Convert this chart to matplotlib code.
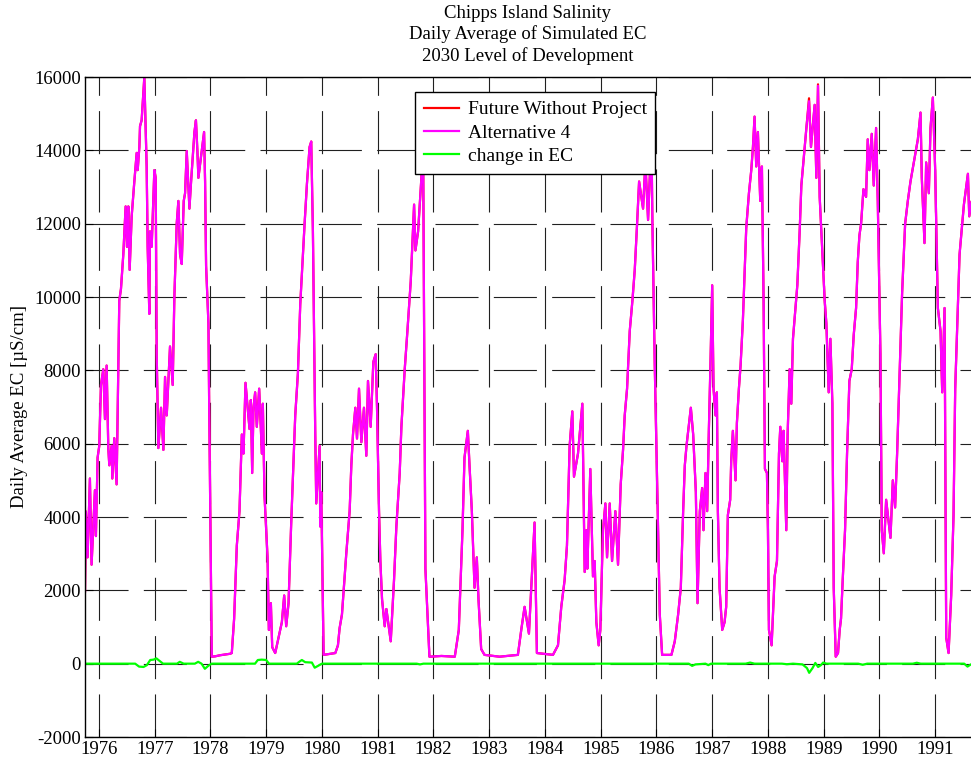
import matplotlib
matplotlib.use("Agg")
import matplotlib.pyplot as plt

plt.rcParams['font.family'] = ['Liberation Serif', 'DejaVu Serif']
plt.rcParams['lines.scale_dashes'] = False

# Alternative 4, daily average EC (decimal year, uS/cm)
t_alt4 = [
    1975.750, 1975.766, 1975.796, 1975.838, 1975.868, 1975.928, 1975.946, 1975.976,
    1976.006, 1976.036, 1976.078, 1976.108, 1976.138, 1976.168, 1976.186, 1976.228,
    1976.240, 1976.275, 1976.317, 1976.365, 1976.395, 1976.437, 1976.479, 1976.503,
    1976.527, 1976.551, 1976.587, 1976.635, 1976.677, 1976.695, 1976.725, 1976.737,
    1976.766, 1976.814, 1976.832, 1976.856, 1976.874, 1976.904, 1976.916, 1976.946,
    1976.994, 1977.018, 1977.036, 1977.066, 1977.114, 1977.156, 1977.186, 1977.216,
    1977.275, 1977.323, 1977.353, 1977.395, 1977.425, 1977.455, 1977.485, 1977.521,
    1977.545, 1977.575, 1977.623, 1977.653, 1977.713, 1977.740, 1977.766, 1977.784,
    1977.886, 1977.904, 1977.922, 1977.964, 1977.976, 1978.024, 1978.084, 1978.174,
    1978.353, 1978.383, 1978.425, 1978.473, 1978.521, 1978.563, 1978.593, 1978.629,
    1978.701, 1978.725, 1978.749, 1978.772, 1978.802, 1978.832, 1978.874, 1978.892,
    1978.922, 1978.940, 1978.970, 1979.024, 1979.048, 1979.084, 1979.108, 1979.162,
    1979.222, 1979.281, 1979.323, 1979.359, 1979.401, 1979.449, 1979.521, 1979.569,
    1979.611, 1979.641, 1979.689, 1979.731, 1979.778, 1979.808, 1979.838, 1979.880,
    1979.898, 1979.958, 1979.970, 1979.988, 1980.030, 1980.240, 1980.287, 1980.317,
    1980.359, 1980.437, 1980.497, 1980.527, 1980.557, 1980.599, 1980.629, 1980.665,
    1980.707, 1980.754, 1980.796, 1980.826, 1980.874, 1980.922, 1980.964, 1980.988,
    1981.024, 1981.048, 1981.078, 1981.126, 1981.156, 1981.234, 1981.293, 1981.335,
    1981.395, 1981.425, 1981.485, 1981.533, 1981.593, 1981.653, 1981.677, 1981.725,
    1981.784, 1981.814, 1981.856, 1981.928, 1982.144, 1982.383, 1982.455, 1982.521,
    1982.557, 1982.617, 1982.647, 1982.689, 1982.737, 1982.778, 1982.808, 1982.856,
    1982.916, 1983.186, 1983.515, 1983.575, 1983.635, 1983.713, 1983.754, 1983.814,
    1983.856, 1984.144, 1984.234, 1984.293, 1984.353, 1984.395, 1984.443, 1984.491,
    1984.521, 1984.593, 1984.671, 1984.713, 1984.743, 1984.760, 1984.814, 1984.832,
    1984.862, 1984.892, 1984.922, 1984.964, 1984.994, 1985.024, 1985.042, 1985.084,
    1985.114, 1985.162, 1985.204, 1985.263, 1985.311, 1985.359, 1985.401, 1985.431,
    1985.473, 1985.521, 1985.569, 1985.611, 1985.653, 1985.689, 1985.760, 1985.802,
    1985.850, 1985.910, 1985.928, 1985.970, 1986.018, 1986.060, 1986.102, 1986.269,
    1986.329, 1986.389, 1986.437, 1986.479, 1986.509, 1986.539, 1986.617, 1986.659,
    1986.707, 1986.737, 1986.778, 1986.820, 1986.844, 1986.880, 1986.910, 1986.940,
    1986.970, 1987.000, 1987.024, 1987.060, 1987.084, 1987.102, 1987.132, 1987.180,
    1987.222, 1987.251, 1987.281, 1987.323, 1987.341, 1987.371, 1987.419, 1987.443,
    1987.479, 1987.509, 1987.551, 1987.581, 1987.611, 1987.659, 1987.701, 1987.731,
    1987.760, 1987.790, 1987.820, 1987.862, 1987.892, 1987.922, 1987.946, 1987.982,
    1988.000, 1988.018, 1988.066, 1988.120, 1988.162, 1988.198, 1988.222, 1988.257,
    1988.281, 1988.329, 1988.353, 1988.389, 1988.419, 1988.449, 1988.527, 1988.569,
    1988.599, 1988.647, 1988.689, 1988.737, 1988.772, 1988.838, 1988.868, 1988.898,
    1988.928, 1989.018, 1989.048, 1989.090, 1989.120, 1989.156, 1989.180, 1989.216,
    1989.257, 1989.287, 1989.311, 1989.341, 1989.383, 1989.419, 1989.461, 1989.503,
    1989.539, 1989.581, 1989.611, 1989.641, 1989.671, 1989.713, 1989.760, 1989.790,
    1989.820, 1989.862, 1989.898, 1989.940, 1989.970, 1990.018, 1990.042, 1990.078,
    1990.120, 1990.198, 1990.240, 1990.281, 1990.317, 1990.359, 1990.407, 1990.461,
    1990.509, 1990.557, 1990.689, 1990.737, 1990.760, 1990.808, 1990.838, 1990.886,
    1990.916, 1990.958, 1991.000, 1991.048, 1991.096, 1991.126, 1991.168, 1991.198,
    1991.240, 1991.287, 1991.329, 1991.359, 1991.437, 1991.515, 1991.587, 1991.611,
    1991.650, 1991.750,
]
ec_alt4 = [
    1970, 4150, 2900, 5050, 2700, 4730, 3480, 5620,
    5940, 7600, 8030, 6670, 8130, 5880, 5410, 5940,
    5050, 6150, 4890, 9900, 10220, 11160, 12470, 11370,
    12470, 10740, 12200, 13150, 13930, 13460, 14090, 14660,
    14820, 15970, 14920, 13560, 11370, 9540, 11790, 11370,
    13460, 13250, 8440, 5880, 6980, 5830, 7820, 6770,
    8650, 7600, 10010, 12000, 12620, 11160, 10900, 12620,
    12830, 13980, 12410, 13150, 14500, 14820, 13980, 13250,
    14500, 13150, 10850, 9280, 7290, 190, 200, 230,
    270, 290, 1230, 3220, 4160, 6250, 5730, 7660,
    6400, 7190, 5200, 6980, 7400, 6460, 7500, 6880,
    5730, 7090, 4580, 2900, 920, 1650, 450, 290,
    710, 1130, 1860, 1020, 1650, 3850, 6770, 7920,
    9800, 10640, 12000, 13090, 14090, 14240, 11790, 6250,
    4370, 5940, 3740, 4680, 240, 290, 500, 970,
    1340, 3010, 4160, 5410, 6250, 6980, 6140, 7500,
    6040, 6980, 5670, 7710, 6460, 8230, 8440, 6980,
    4160, 2800, 1760, 1020, 1490, 610, 2280, 3740,
    5200, 6460, 8030, 9070, 10430, 12520, 11270, 11790,
    13250, 14400, 2590, 190, 210, 190, 920, 3640,
    5620, 6350, 5410, 4160, 2070, 2900, 1760, 400,
    240, 190, 240, 920, 1550, 820, 2070, 3850,
    290, 240, 500, 1550, 2280, 3220, 5940, 6880,
    5100, 5730, 7090, 2500, 3640, 2590, 5310, 4160,
    2380, 2800, 1130, 500, 920, 2700, 3640, 4370,
    2900, 4370, 2800, 4160, 2700, 4890, 5830, 6770,
    7500, 9070, 9900, 10740, 12000, 13150, 12410, 13670,
    12100, 14400, 12000, 8130, 4470, 1340, 240, 240,
    610, 1340, 2070, 4160, 5410, 5940, 6980, 6250,
    4680, 1650, 4160, 4790, 3640, 5200, 4160, 6350,
    8230, 10320, 7500, 6770, 7400, 4160, 2070, 920,
    1130, 1550, 4050, 4470, 5520, 6350, 5000, 6560,
    7500, 8130, 9380, 10640, 11890, 12830, 13460, 14090,
    14920, 13560, 14500, 12620, 13560, 9900, 5310, 5200,
    3640, 920, 500, 2380, 2800, 5730, 6460, 5520,
    6350, 3640, 6250, 8030, 7090, 8860, 10320, 11790,
    13040, 13880, 14610, 15340, 14090, 15240, 13250, 15760,
    12730, 9900, 9280, 7400, 8860, 7090, 2070, 190,
    290, 920, 1230, 2280, 3640, 5730, 7710, 8030,
    8970, 9700, 10950, 11680, 12000, 12940, 12730, 14300,
    13460, 14450, 13040, 14610, 12620, 8440, 3640, 3010,
    4470, 3430, 5000, 4260, 5730, 7820, 10120, 12000,
    12620, 13150, 14300, 15030, 13250, 11470, 13670, 12830,
    14610, 15440, 13460, 9700, 9070, 7400, 9700, 710,
    290, 1860, 4050, 7500, 11160, 12520, 13360, 12200,
    12600, 12800,
]

# points where Future Without Project shows above Alternative 4
fwp_diff_t = [1976.814, 1988.737, 1988.898]
fwp_diff_ec = [16000, 15420, 15800]

# change in EC (Alternative 4 minus Future Without Project)
t_change = [
    1975.75, 1976.65, 1976.72, 1976.80, 1976.86, 1976.92, 1976.98, 1977.03,
    1977.10, 1977.15, 1977.40, 1977.45, 1977.52, 1977.72, 1977.78, 1977.84,
    1977.90, 1977.96, 1978.02, 1978.80, 1978.85, 1978.92, 1979.00, 1979.05,
    1979.55, 1979.60, 1979.64, 1979.70, 1979.82, 1979.87, 1979.93, 1980.00,
    1981.70, 1981.76, 1981.82, 1986.58, 1986.64, 1986.70, 1986.88, 1986.93,
    1986.98, 1987.60, 1987.68, 1987.76, 1988.25, 1988.34, 1988.45, 1988.62,
    1988.70, 1988.74, 1988.80, 1988.85, 1988.90, 1988.95, 1988.99, 1989.05,
    1989.62, 1989.70, 1989.78, 1990.60, 1990.67, 1990.74, 1991.52, 1991.58,
    1991.64, 1991.75,
]
ec_change = [
    0, 0, -80, -90, -40, 100, 110, 145,
    60, 0, 0, 50, 0, 0, 50, 0,
    -140, -60, 0, 0, 100, 110, 100, 0,
    0, 60, 100, 40, 30, -110, -60, 0,
    0, -20, 0, 0, -60, -20, 0, -40,
    0, 0, 30, 0, 0, -15, 0, -20,
    -120, -250, -120, 20, -90, -40, 30, 0,
    0, -30, 0, 0, 25, 0, 0, -80,
    -20, 0,
]

years = list(range(1976, 1992))
yticks = list(range(-2000, 16001, 2000))

ec_fwp = list(ec_alt4)
for tt, v in zip(fwp_diff_t, fwp_diff_ec):
    ec_fwp[t_alt4.index(tt)] = v

fig = plt.figure(figsize=(9.71, 7.65), dpi=100)
ax = fig.add_axes([85 / 971, 1 - 737 / 765, 892 / 971, 660 / 765])

ax.plot(t_alt4, ec_fwp, color=(1, 0, 0), lw=1.6, label='Future Without Project')
ax.plot(t_alt4, ec_alt4, color=(1, 0, 1), lw=1.6, label='Alternative 4')
ax.plot(t_change, ec_change, color=(0, 1, 0), lw=1.6, label='change in EC')

ax.set_xlim(1975.75, 1991.75)
ax.set_ylim(-2000, 16000)
ax.set_xticks(years)
ax.set_xticklabels([str(y) for y in years])
ax.set_yticks(yticks)
ax.set_yticklabels([str(v) for v in yticks])
ax.tick_params(direction='in', length=6, width=0.8, labelsize=13.5, pad=3)
ax.grid(True, color='#202020', lw=0.8, linestyle=(0, (31, 11)))
ax.set_axisbelow(True)
for s in ax.spines.values():
    s.set_linewidth(1.0)

ax.set_ylabel('Daily Average EC [\u00b5S/cm]', fontsize=13.5, labelpad=4)

fig.text(528 / 971, 1 - 13 / 765, 'Chipps Island Salinity', ha='center', va='center', fontsize=13.5)
fig.text(528 / 971, 1 - 34 / 765, 'Daily Average of Simulated EC', ha='center', va='center', fontsize=13.5)
fig.text(528 / 971, 1 - 56 / 765, '2030 Level of Development', ha='center', va='center', fontsize=13.5)

leg = ax.legend(loc='upper left', bbox_to_anchor=((415 - 85) / 892, (737 - 92) / 660),
                fontsize=14, fancybox=False, framealpha=1, edgecolor='black',
                borderpad=0.45, handlelength=1.8, labelspacing=0.3, handletextpad=0.45,
                borderaxespad=0)
leg.get_frame().set_linewidth(1.0)

fig.savefig('out.png', dpi=100)
